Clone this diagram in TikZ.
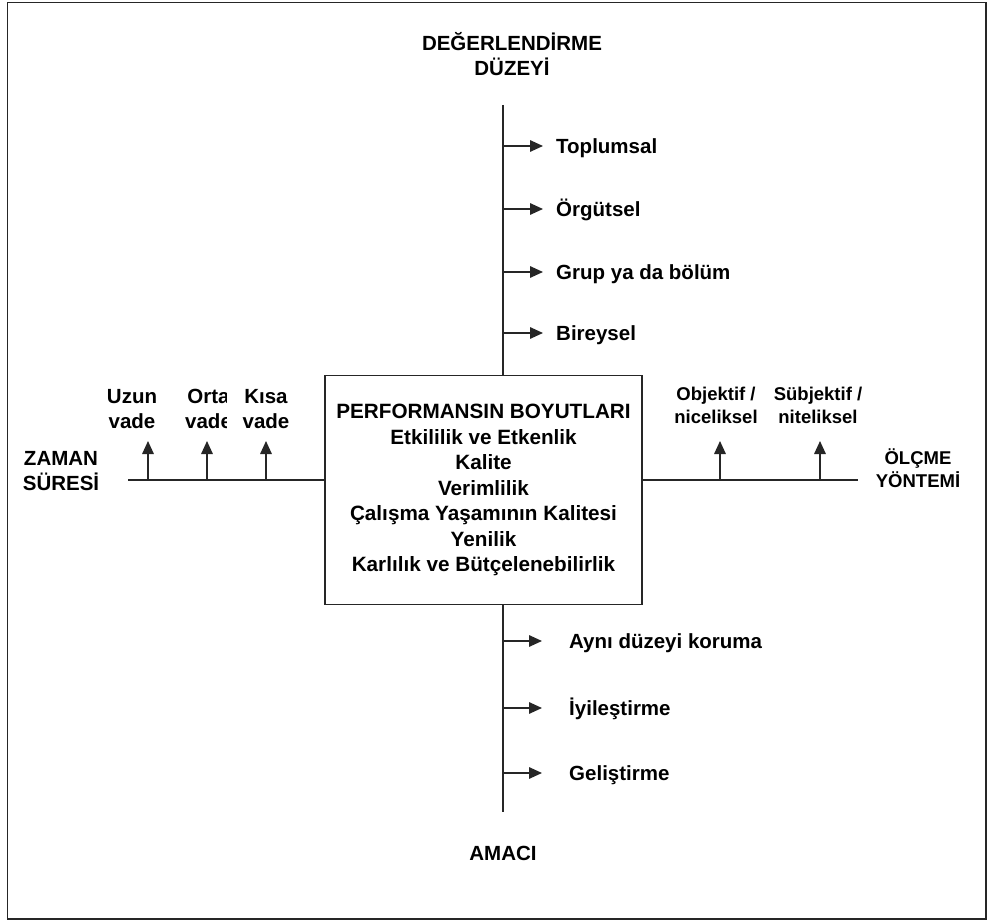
\documentclass[tikz,border=0pt]{standalone}
\usepackage{fontspec}
\setmainfont{Liberation Sans}
\usetikzlibrary{arrows.meta}
\begin{document}
\begin{tikzpicture}[x=1pt,y=-1pt,
  axis/.style={line width=1.6pt, draw=black!85},
  arr/.style={line width=1.6pt, draw=black!85, -{Triangle[length=13pt,width=11.5pt]}},
  item/.style={font=\bfseries\fontsize{20.5}{25}\selectfont, inner sep=0pt,
               anchor=west, text height=14.7pt, text depth=0pt},
  head/.style={font=\bfseries\fontsize{20.5}{25}\selectfont, inner sep=0pt, align=center},
  smallhead/.style={font=\bfseries\fontsize{18.5}{23}\selectfont, inner sep=0pt, align=center},
  dimbox/.style={draw=black!85, line width=1.4pt, fill=white, minimum width=317pt,
                 minimum height=229pt, inner sep=0pt, align=center,
                 font=\bfseries\fontsize{20.7}{25.5}\selectfont}]
\useasboundingbox (0,0) rectangle (989,923);
% outer frame
\draw[line width=1.4pt, draw=black!85] (7.5,2.5) rectangle (986,919);

% central box with the dimensions of performance
\node[dimbox] (box) at (483.5,490) {%
  PERFORMANSIN BOYUTLARI\\
  Etkililik ve Etkenlik\\
  Kalite\\
  Verimlilik\\
  Çalışma Yaşamının Kalitesi\\
  Yenilik\\
  Karlılık ve Bütçelenebilirlik};

% axis end points
\coordinate (vtop) at (503,105);
\coordinate (vbot) at (503,812);
\coordinate (hleft) at (128,480);
\coordinate (hright) at (858,480);

\draw[axis] (vtop) -- (vtop |- box.north);
\draw[axis] (vbot |- box.south) -- (vbot);
\draw[axis] (hleft) -- (hleft -| box.west);
\draw[axis] (box.east |- hright) -- (hright);

% axis titles
\node[head] (deg) at (512,54) {DEĞERLENDİRME\\DÜZEYİ};
\node[head] (amac) at (503,853) {AMACI};
\node[head] (zaman) at (61,471) {ZAMAN\\SÜRESİ};
\node[smallhead] (olcme) at (918,468) {ÖLÇME\\YÖNTEMİ};

% evaluation level
\node[item] (t1) at (556,146) {Toplumsal};
\node[item] (t2) at (556,209) {Örgütsel};
\node[item] (t3) at (556,272) {Grup ya da bölüm};
\node[item] (t4) at (556,333) {Bireysel};
\foreach \n in {t1,t2,t3,t4}
  \draw[arr] (vtop |- \n.west) -- ([xshift=-13pt]\n.west);

% purpose
\node[item] (b1) at (569,641) {Aynı düzeyi koruma};
\node[item] (b2) at (569,708) {İyileştirme};
\node[item] (b3) at (569,773) {Geliştirme};
\foreach \n in {b1,b2,b3}
  \draw[arr] (vbot |- \n.west) -- ([xshift=-27pt]\n.west);

% time span
\node[head] (uzun) at (132,409) {Uzun\\vade};
\begin{scope}
  \clip (170,375) rectangle (226,440);
  \node[head, anchor=west] (orta) at (185,409) {Orta\\vade};
\end{scope}
\node[head] (kisa) at (266,409) {Kısa\\vade};
\foreach \x/\m in {148/u, 207/o, 266/k} {
  \coordinate (\m0) at (\x,480);
  \coordinate (\m1) at (\x,441);
  \draw[arr] (\m0) -- (\m1);
}

% measurement method
\node[smallhead] (obj) at (716,405) {Objektif /\\niceliksel};
\node[smallhead] (sub) at (818,405) {Sübjektif /\\niteliksel};
\foreach \x/\m in {720/p, 820/q} {
  \coordinate (\m0) at (\x,480);
  \coordinate (\m1) at (\x,441);
  \draw[arr] (\m0) -- (\m1);
}
\end{tikzpicture}
\end{document}
